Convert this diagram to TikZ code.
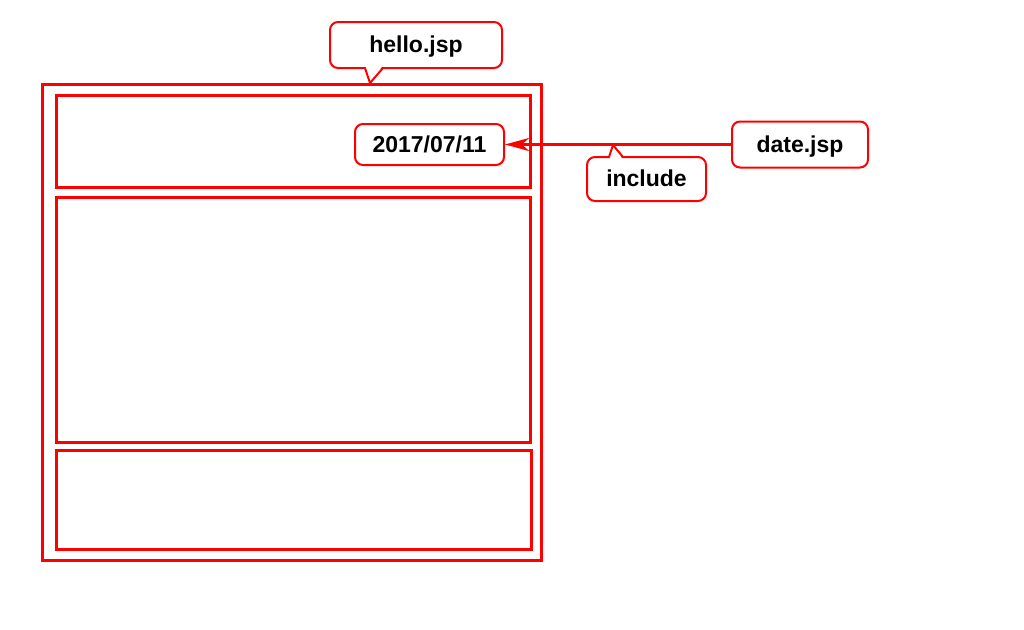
\documentclass[tikz,border=0pt]{standalone}
\usepackage{fontspec}
\setmainfont{Liberation Sans}
\usetikzlibrary{arrows.meta}

\begin{document}
\begin{tikzpicture}[x = 1pt, y = -1pt, font = \bfseries\fontsize{23}{28}\selectfont]
	\tikzstyle{frameStyle} = [draw = red, line width = 3pt]
	\tikzstyle{boxStyle} = [draw = red, line width = 2pt, rounded corners = 8pt, fill = white, inner sep = 0pt, text height = 17.5pt, text depth = 2pt]
	\tikzstyle{tailStyle} = [draw = red, line width = 2pt, line join = round]
	\tikzstyle{linkStyle} = [draw = red, line width = 3pt, -{Stealth[length = 24pt, width = 13pt, inset = 7pt]}]
	\useasboundingbox (0, 0) rectangle (1024, 629);
	\draw[frameStyle] (42.5, 84) rectangle (541.5, 560.5);
	\draw[frameStyle] (56.5, 95.5) rectangle (530.5, 187.5);
	\draw[frameStyle] (56.5, 197.5) rectangle (530.5, 442.5);
	\draw[frameStyle] (56.5, 450.5) rectangle (531.5, 549.5);
	\node[boxStyle, minimum width = 172pt, minimum height = 46pt] (hello) at (416, 45) {hello.jsp};
	\node[boxStyle, minimum width = 149pt, minimum height = 41pt] (stamp) at (429.5, 144.5) {2017/07/11};
	\node[boxStyle, minimum width = 136pt, minimum height = 46pt] (date) at (800, 144.5) {date.jsp};
	\node[boxStyle, minimum width = 119pt, minimum height = 44pt] (include) at (646.5, 179) {include};
	\coordinate (helloTip) at (370, 83);
	\coordinate (includeTip) at (613, 145);
	\fill[white] (365.5, 66) -- (helloTip) -- (382.5, 66) -- cycle;
	\draw[tailStyle] (365, 68) -- (helloTip) -- (383, 68);
	\fill[white] (609.5, 159) -- (includeTip) -- (622.5, 159) -- cycle;
	\draw[tailStyle] (609, 157) -- (includeTip) -- (623, 157);
	\draw[linkStyle] (date) -- (stamp);
\end{tikzpicture}
\end{document}
